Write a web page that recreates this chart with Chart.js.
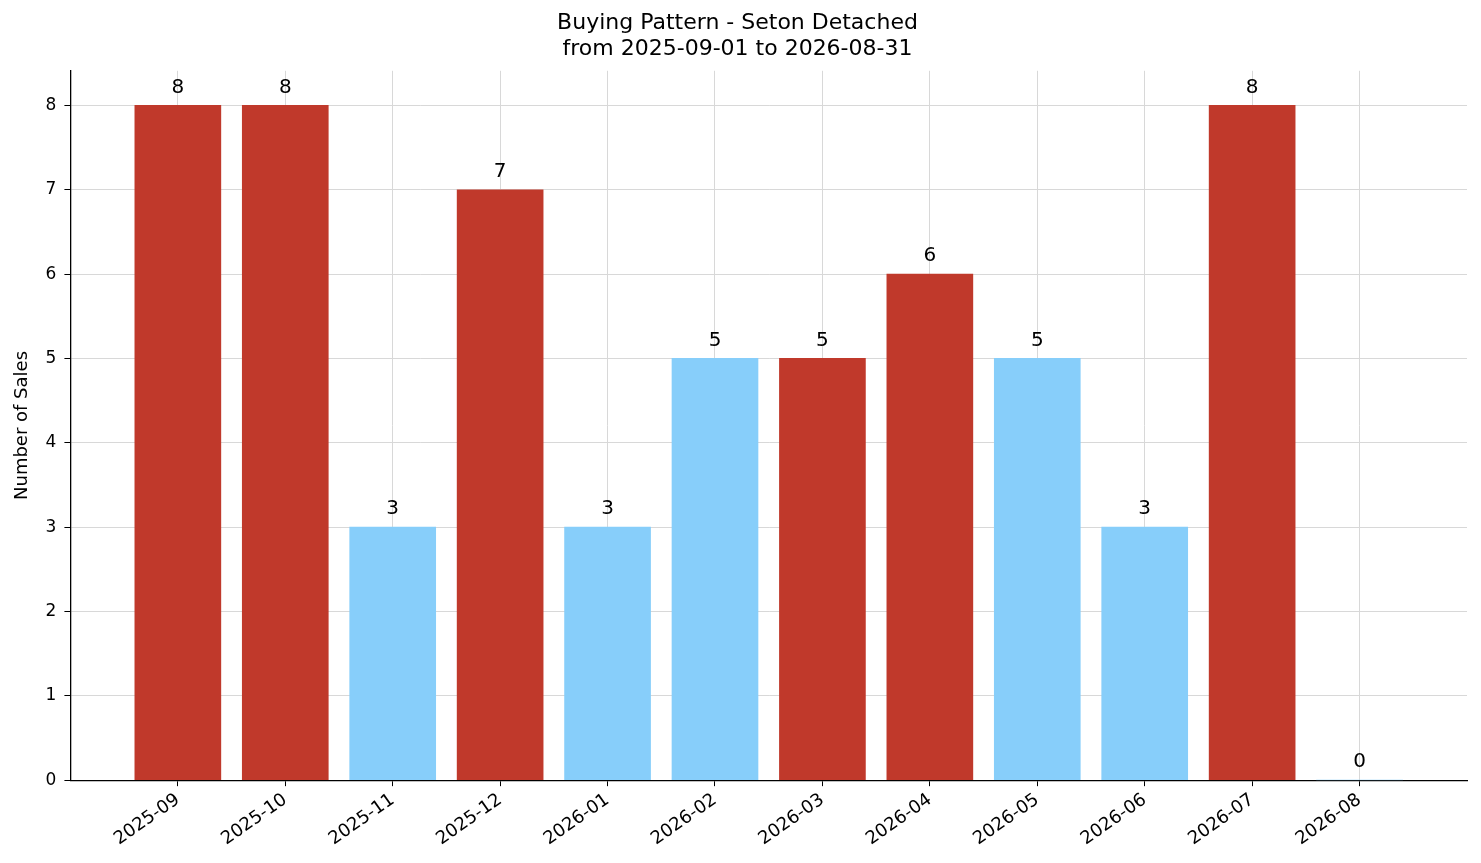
<!DOCTYPE html>
<html>
<head>
<meta charset="utf-8">
<script src="https://cdn.jsdelivr.net/npm/chart.js@4.4.0/dist/chart.umd.min.js"></script>
<style>
  html, body { margin: 0; padding: 0; background: #fff; }
  #wrap { width: 1481px; height: 863px; }
</style>
</head>
<body>
<div id="wrap"><canvas id="c"></canvas></div>
<script>
const months = ['2025-09', '2025-10', '2025-11', '2025-12', '2026-01', '2026-02',
                '2026-03', '2026-04', '2026-05', '2026-06', '2026-07', '2026-08'];
const sales = [8, 8, 3, 7, 3, 5, 5, 6, 5, 3, 8, 0];
const RED = '#c0392b';
const BLUE = '#87cefa';
const colors = [RED, RED, BLUE, RED, BLUE, BLUE, RED, RED, BLUE, BLUE, RED, BLUE];

const barLabels = {
  id: 'barLabels',
  afterDatasetsDraw(chart) {
    const ctx = chart.ctx;
    const meta = chart.getDatasetMeta(0);
    ctx.save();
    ctx.font = '20px "DejaVu Sans"';
    ctx.fillStyle = '#000';
    ctx.textAlign = 'center';
    ctx.textBaseline = 'bottom';
    meta.data.forEach((bar, i) => {
      ctx.fillText(String(sales[i]), bar.x, bar.y - 8);
    });
    ctx.restore();
  }
};

new Chart(document.getElementById('c'), {
  type: 'bar',
  data: {
    datasets: [{
      data: sales.map((v, i) => ({ x: i, y: v })),
      backgroundColor: colors,
      barThickness: 86,
      borderWidth: 0
    }]
  },
  options: {
    responsive: true,
    maintainAspectRatio: false,
    animation: false,
    layout: { padding: { left: 8, right: 14, top: 2, bottom: 10 } },
    plugins: {
      legend: { display: false },
      tooltip: { enabled: false },
      title: {
        display: true,
        text: ['Buying Pattern - Seton Detached', 'from 2025-09-01 to 2026-08-31'],
        color: '#000',
        font: { family: 'DejaVu Sans', size: 22, weight: 'normal', lineHeight: 1.2 },
        padding: { top: 8, bottom: 8 }
      }
    },
    scales: {
      x: {
        type: 'linear',
        offset: false,
        min: -1, max: 12,
        afterBuildTicks(axis) { axis.ticks = months.map((m, i) => ({ value: i })); },
        ticks: {
          color: '#000',
          font: { family: 'DejaVu Sans', size: 18 },
          maxRotation: 35, minRotation: 35,
          callback: (v) => months[v]
        },
        grid: { offset: false, color: '#d8d8d8', tickColor: '#000', tickLength: 6 },
        border: { color: '#000', width: 1.3 }
      },
      y: {
        min: 0, max: 8.41,
        afterBuildTicks(axis) { axis.ticks = [0,1,2,3,4,5,6,7,8].map(v => ({ value: v })); },
        ticks: { color: '#000', font: { family: 'DejaVu Sans', size: 17 }, padding: 8 },
        title: { display: true, text: 'Number of Sales', color: '#000', font: { family: 'DejaVu Sans', size: 18 } },
        grid: { color: '#d8d8d8', tickColor: '#000', tickLength: 6 },
        border: { color: '#000', width: 1.3 }
      }
    }
  },
  plugins: [barLabels]
});
</script>
</body>
</html>
